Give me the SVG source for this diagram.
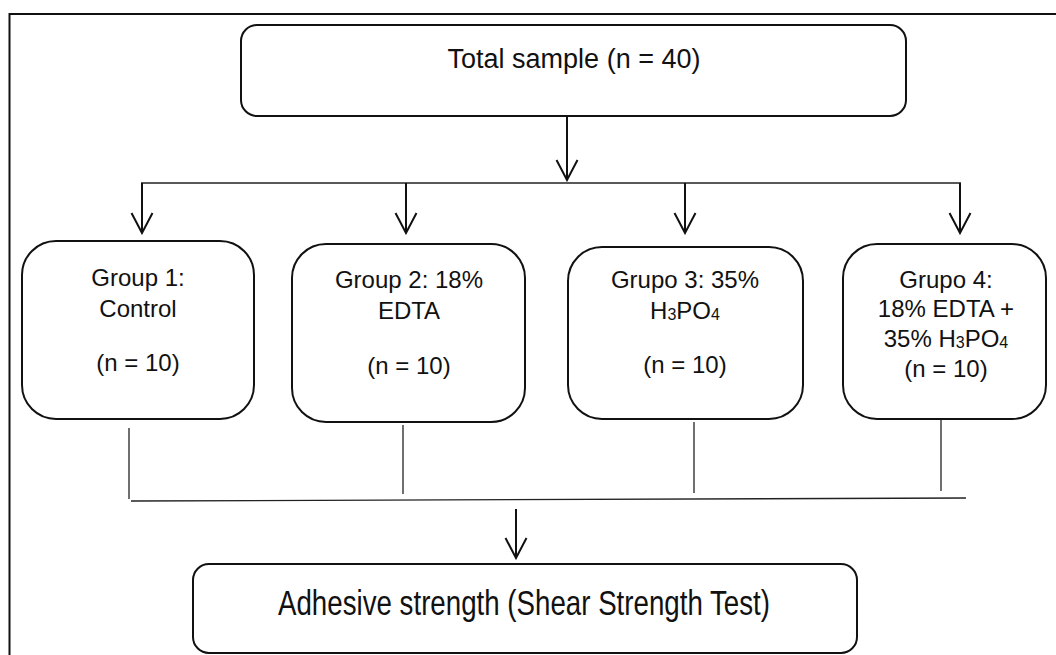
<svg xmlns="http://www.w3.org/2000/svg" width="1056" height="655" viewBox="0 0 1056 655">
<style>
.box{fill:#fff;stroke:#111;stroke-width:2}
.ln{fill:none;stroke:#222;stroke-width:1.3}
.ar{fill:none;stroke:#111;stroke-width:2;marker-end:url(#ah)}
text{font-family:"Liberation Sans",Arial,sans-serif;fill:#111;text-anchor:middle}
.t24{font-size:24px}
.sub{font-size:16px}
</style>
<defs>
<marker id="ah" viewBox="-2 -13 24 26" refX="20" refY="0" markerWidth="24" markerHeight="26" markerUnits="userSpaceOnUse" orient="auto">
<path d="M0,-10.5 L20,0 L0,10.5" fill="none" stroke="#111" stroke-width="2"/>
</marker>
</defs>
<rect width="1056" height="655" fill="#fff"/>
<path d="M9.5,655 V14 H1056" fill="none" stroke="#111" stroke-width="2"/>
<g id="total">
<rect class="box" x="241" y="25" width="665" height="91" rx="16"/>
<text x="574" y="68" style="font-size:27px">Total sample (n = 40)</text>
</g>
<g id="g1">
<rect class="box" x="22" y="241" width="232" height="178" rx="34"/>
<text class="t24" x="138" y="286">Group 1:</text>
<text class="t24" x="138" y="317">Control</text>
<text class="t24" x="138" y="371">(n = 10)</text>
</g>
<g id="g2">
<rect class="box" x="292" y="244" width="233" height="178" rx="34"/>
<text class="t24" x="409" y="288">Group 2: 18%</text>
<text class="t24" x="409" y="319">EDTA</text>
<text class="t24" x="409" y="374">(n = 10)</text>
</g>
<g id="g3">
<rect class="box" x="568" y="247" width="235" height="172" rx="34"/>
<text class="t24" x="685" y="288">Grupo 3: 35%</text>
<text class="t24" x="685" y="319">H<tspan class="sub" dy="1">3</tspan><tspan dy="-1">PO</tspan><tspan class="sub" dy="1">4</tspan></text>
<text class="t24" x="685" y="373">(n = 10)</text>
</g>
<g id="g4">
<rect class="box" x="843" y="244" width="203" height="175" rx="34"/>
<text class="t24" x="946" y="288">Grupo 4:</text>
<text class="t24" x="946" y="317">18% EDTA +</text>
<text class="t24" x="946" y="347">35% H<tspan class="sub" dy="1">3</tspan><tspan dy="-1">PO</tspan><tspan class="sub" dy="1">4</tspan></text>
<text class="t24" x="946" y="377">(n = 10)</text>
</g>
<g id="result">
<rect class="box" x="193" y="564" width="664" height="89" rx="16"/>
<text x="524" y="615" style="font-size:35px" textLength="492" lengthAdjust="spacingAndGlyphs">Adhesive strength (Shear Strength Test)</text>
</g>
<g id="connectors">
<line class="ar" x1="567" y1="116" x2="567" y2="180"/>
<line class="ln" x1="141" y1="183" x2="961" y2="183"/>
<line class="ar" x1="142" y1="183" x2="142" y2="233"/>
<line class="ar" x1="406" y1="183" x2="406" y2="233"/>
<line class="ar" x1="685" y1="183" x2="685" y2="233"/>
<line class="ar" x1="960" y1="183" x2="960" y2="233"/>
<line class="ln" x1="129" y1="428" x2="129" y2="499"/>
<line class="ln" x1="403" y1="425" x2="403" y2="494"/>
<line class="ln" x1="694" y1="422" x2="694" y2="493"/>
<line class="ln" x1="941" y1="420" x2="941" y2="491"/>
<line class="ln" x1="131" y1="501" x2="966" y2="498"/>
<line class="ar" x1="516" y1="509" x2="516" y2="558"/>
</g>
</svg>
